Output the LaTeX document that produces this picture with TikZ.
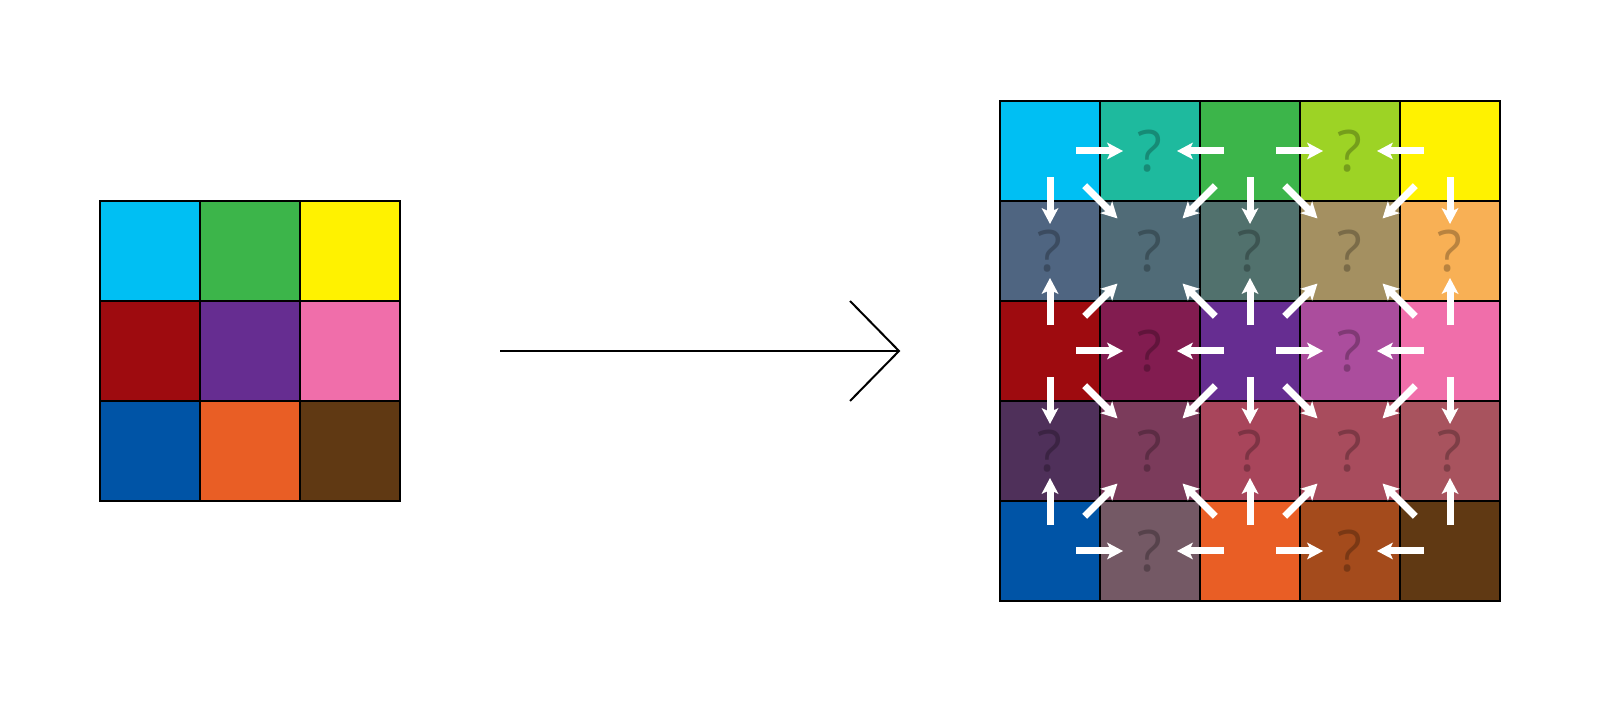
\documentclass[tikz,border=0pt]{standalone}
\usepackage{fontspec}
\setmainfont{Open Sans}
\usetikzlibrary{arrows.meta,calc}
\definecolor{cA}{RGB}{0,191,243}
\definecolor{cB}{RGB}{60,181,74}
\definecolor{cC}{RGB}{255,242,0}
\definecolor{cD}{RGB}{158,11,15}
\definecolor{cE}{RGB}{102,45,145}
\definecolor{cF}{RGB}{240,110,170}
\definecolor{cG}{RGB}{0,84,166}
\definecolor{cH}{RGB}{233,94,37}
\definecolor{cI}{RGB}{96,57,19}
\colorlet{hAB}{cA!50!cB}
\colorlet{hBC}{cB!50!cC}
\colorlet{hAD}{cA!50!cD}
\colorlet{hBE}{cB!50!cE}
\colorlet{hCF}{cC!50!cF}
\colorlet{hDE}{cD!50!cE}
\colorlet{hEF}{cE!50!cF}
\colorlet{hDG}{cD!50!cG}
\colorlet{hEH}{cE!50!cH}
\colorlet{hFI}{cF!50!cI}
\colorlet{hGH}{cG!50!cH}
\colorlet{hHI}{cH!50!cI}
\colorlet{qABDE}{hAD!50!hBE}
\colorlet{qBCEF}{hBE!50!hCF}
\colorlet{qDEGH}{hDG!50!hEH}
\colorlet{qEFHI}{hEH!50!hFI}
\begin{document}
\begin{tikzpicture}[x=0.01cm,y=-0.01cm,
  cell/.style={draw=black, line width=0.02cm, minimum size=1cm, inner sep=0pt, outer sep=0pt},
  qm/.style={text=black, text opacity=0.25, font=\fontsize{16.3}{19}\selectfont},
  flow/.style={draw=white, line width=0.07cm, line cap=butt,
    -{Stealth[length=0.16cm, width=0.17cm, inset=0.04cm, line width=0pt]}},
  flowhv/.style={flow, shorten <=0.26cm, shorten >=0.27cm},
  flowdg/.style={flow, shorten <=0.49cm, shorten >=0.46cm},
  bigarrow/.style={draw=black, line width=0.02cm}]
\useasboundingbox (0,0) rectangle (1600,701);
% left grid
\foreach \c/\r/\col in {0/0/cA,1/0/cB,2/0/cC,0/1/cD,1/1/cE,2/1/cF,0/2/cG,1/2/cH,2/2/cI}
  \node[cell, fill=\col] (L\r\c) at (150+100*\c, 251+100*\r) {};
% right grid
\foreach \c/\r/\col/\t in {
  0/0/cA/, 1/0/hAB/?, 2/0/cB/, 3/0/hBC/?, 4/0/cC/,
  0/1/hAD/?, 1/1/qABDE/?, 2/1/hBE/?, 3/1/qBCEF/?, 4/1/hCF/?,
  0/2/cD/, 1/2/hDE/?, 2/2/cE/, 3/2/hEF/?, 4/2/cF/,
  0/3/hDG/?, 1/3/qDEGH/?, 2/3/hEH/?, 3/3/qEFHI/?, 4/3/hFI/?,
  0/4/cG/, 1/4/hGH/?, 2/4/cH/, 3/4/hHI/?, 4/4/cI/}
  \node[cell, qm, fill=\col] (n\r\c) at (1050+100*\c, 151+100*\r) {\t};
% big arrow
\coordinate (arrS) at (500,351);
\coordinate (arrE) at (899,351);
\coordinate (arrU) at (850,301);
\coordinate (arrD) at (850,401);
\draw[bigarrow] (arrS) -- (arrE);
\draw[bigarrow] (arrU) -- (arrE) -- (arrD);
% horizontal arrows
\foreach \r in {0,2,4} \foreach \c in {1,3} {
  \pgfmathtruncatemacro\myL{\c-1}
  \pgfmathtruncatemacro\myR{\c+1}
  \draw[flowhv] (n\r\myL.center) -- (n\r\c.center);
  \draw[flowhv] (n\r\myR.center) -- (n\r\c.center);
}
% vertical arrows
\foreach \r in {1,3} \foreach \c in {0,2,4} {
  \pgfmathtruncatemacro\myU{\r-1}
  \pgfmathtruncatemacro\myD{\r+1}
  \draw[flowhv] (n\myU\c.center) -- (n\r\c.center);
  \draw[flowhv] (n\myD\c.center) -- (n\r\c.center);
}
% diagonal arrows
\foreach \r in {1,3} \foreach \c in {1,3} {
  \pgfmathtruncatemacro\myU{\r-1}
  \pgfmathtruncatemacro\myD{\r+1}
  \pgfmathtruncatemacro\myL{\c-1}
  \pgfmathtruncatemacro\myR{\c+1}
  \draw[flowdg] (n\myU\myL.center) -- (n\r\c.center);
  \draw[flowdg] (n\myU\myR.center) -- (n\r\c.center);
  \draw[flowdg] (n\myD\myL.center) -- (n\r\c.center);
  \draw[flowdg] (n\myD\myR.center) -- (n\r\c.center);
}
\end{tikzpicture}
\end{document}
